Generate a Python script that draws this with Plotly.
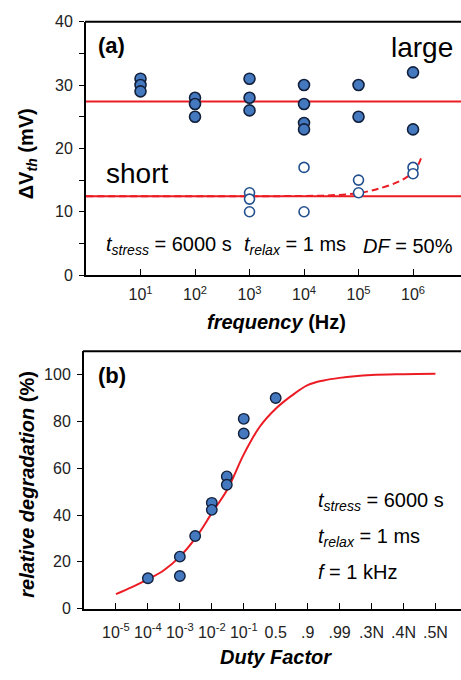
import plotly.graph_objects as go

# ---------------- Panel (a) data ----------------
freq_large = [10, 10, 10, 100, 100, 100, 1e3, 1e3, 1e3, 1e4, 1e4, 1e4, 1e4, 1e5, 1e5, 1e6, 1e6]
dvth_large = [31, 30, 29, 28, 27, 25, 31, 28, 26, 30, 27, 24, 23, 30, 25, 32, 23]
freq_short = [1e3, 1e3, 1e3, 1e4, 1e4, 1e5, 1e5, 1e6, 1e6]
dvth_short = [13, 12, 10, 17, 10, 15, 13, 17, 16]
mean_large = 27.4
mean_short = 12.45
line_freq = [1, 1e7]
fit_freq = [1, 1e3, 1e4, 3.16e4, 1e5, 2.45e5, 5.75e5, 1e6, 1.26e6, 1.48e6]
fit_dvth = [12.45, 12.45, 12.5, 12.6, 12.95, 13.7, 14.85, 16.2, 17.5, 19.0]
freq_tickvals = [10, 100, 1e3, 1e4, 1e5, 1e6]
freq_ticktext = ["10<sup>1</sup>", "10<sup>2</sup>", "10<sup>3</sup>",
                 "10<sup>4</sup>", "10<sup>5</sup>", "10<sup>6</sup>"]

# ---------------- Panel (b) data ----------------
duty_ticktext = ["10<sup>-5</sup>", "10<sup>-4</sup>", "10<sup>-3</sup>", "10<sup>-2</sup>",
                 "10<sup>-1</sup>", "0.5", ".9", ".99", ".3N", ".4N", ".5N"]
duty_tickpos = list(range(len(duty_ticktext)))
duty_pos = [1, 2, 2, 2.48, 3, 3, 3.47, 3.47, 4, 4, 5]
rel_deg = [13.0, 22.2, 13.9, 31.0, 45.2, 42.2, 56.5, 52.9, 81.1, 74.8, 90.0]
curve_pos = [0, 0.5, 1, 1.5, 2, 2.5, 3, 3.5, 4, 4.5, 5, 5.5, 6, 6.5, 7, 8, 9, 10]
curve_deg = [6.2, 9.2, 12.5, 16.4, 22.2, 30.3, 40.8, 51.2, 65.9, 77.7, 85.4, 91.0,
             95.5, 97.5, 98.6, 99.8, 100.2, 100.4]

W, H = 461, 680
RED = "#ec1c24"
FILL = "#4479c0"
EDGE = "#12203c"
OPEN = "#23508f"
FONT = "Liberation Sans, Arial, sans-serif"

def px(x):
    return x / W

def py(y):
    return 1 - y / H

fig = go.Figure()

# Panel (a)
fig.add_trace(go.Scatter(x=line_freq, y=[mean_large, mean_large], mode="lines",
                         line=dict(color=RED, width=2.2), xaxis="x", yaxis="y", showlegend=False))
fig.add_trace(go.Scatter(x=line_freq, y=[mean_short, mean_short], mode="lines",
                         line=dict(color=RED, width=2.2), xaxis="x", yaxis="y", showlegend=False))
fig.add_trace(go.Scatter(x=fit_freq, y=fit_dvth, mode="lines", line_shape="spline",
                         line=dict(color=RED, width=2, dash="7px,4px"),
                         xaxis="x", yaxis="y", showlegend=False))
fig.add_trace(go.Scatter(x=freq_large, y=dvth_large, mode="markers",
                         marker=dict(size=11, color=FILL, line=dict(color=EDGE, width=1.6)),
                         xaxis="x", yaxis="y", showlegend=False))
fig.add_trace(go.Scatter(x=freq_short, y=dvth_short, mode="markers",
                         marker=dict(size=10, color="white", line=dict(color=OPEN, width=1.6)),
                         xaxis="x", yaxis="y", showlegend=False))

# Panel (b)
fig.add_trace(go.Scatter(x=curve_pos, y=curve_deg, mode="lines", line_shape="spline",
                         line=dict(color=RED, width=2), xaxis="x2", yaxis="y2", showlegend=False))
fig.add_trace(go.Scatter(x=duty_pos, y=rel_deg, mode="markers",
                         marker=dict(size=10.5, color=FILL, line=dict(color=EDGE, width=1.4)),
                         xaxis="x2", yaxis="y2", showlegend=False))

tickfont = dict(family=FONT, size=16, color="#222")

fig.update_layout(
    width=W, height=H,
    margin=dict(l=0, r=0, t=0, b=0),
    paper_bgcolor="white", plot_bgcolor="white",
    font=dict(family=FONT, color="black"),
    hovermode=False,
    xaxis=dict(type="log", domain=[px(86), 1], range=[0, 6.88], anchor="y",
               tickvals=freq_tickvals, ticktext=freq_ticktext, ticks="inside", ticklen=6,
               tickwidth=1, tickcolor="black", tickfont=tickfont, ticklabelstandoff=4,
               showline=True, linewidth=2, linecolor="black", showgrid=False, zeroline=False),
    yaxis=dict(domain=[py(274), py(14)], range=[0, 40], dtick=10, anchor="x",
               ticks="outside", ticklen=5, tickwidth=1, tickcolor="black", tickfont=tickfont,
               ticklabelstandoff=3,
               minor=dict(dtick=5, ticks="outside", ticklen=5, tickwidth=1, tickcolor="black"),
               showline=True, linewidth=2, linecolor="black", showgrid=False, zeroline=False),
    xaxis2=dict(domain=[px(84), 1], range=[-1, 10.8], anchor="y2",
                tickvals=duty_tickpos, ticktext=duty_ticktext, ticks="inside", ticklen=6,
                tickwidth=1, tickcolor="black", tickfont=tickfont, ticklabelstandoff=8,
                showline=True, linewidth=2, linecolor="black", showgrid=False, zeroline=False),
    yaxis2=dict(domain=[py(616), py(352)], range=[0, 110], dtick=20, anchor="x2",
                ticks="outside", ticklen=5, tickwidth=1, tickcolor="black", tickfont=tickfont,
                ticklabelstandoff=3,
                showline=True, linewidth=2, linecolor="black", showgrid=False, zeroline=False),
)

# Top borders
fig.add_shape(type="line", xref="paper", yref="paper", x0=px(85), x1=1, y0=py(14), y1=py(14),
              line=dict(color="black", width=2))
fig.add_shape(type="line", xref="paper", yref="paper", x0=px(83), x1=1, y0=py(352), y1=py(352),
              line=dict(color="black", width=2))

def ann(text, x, y, size, xanchor="center", yanchor="middle", angle=0):
    fig.add_annotation(text=text, x=px(x), y=py(y), xref="paper", yref="paper",
                       xanchor=xanchor, yanchor=yanchor, showarrow=False, textangle=angle,
                       font=dict(family=FONT, size=size, color="black"))

# Panel (a) texts
ann("<b>(a)</b>", 96, 38, 22, xanchor="left")
ann("large", 389, 40, 28, xanchor="left")
ann("short", 104, 170, 28, xanchor="left")
ann("<i>t</i><sub><i>stress</i></sub> = 6000 s", 104, 244, 20, xanchor="left")
ann("<i>t</i><sub><i>relax</i></sub> = 1 ms", 242, 244, 20, xanchor="left")
ann("<i>DF</i> = 50%", 361, 244, 20, xanchor="left")
ann("<b>ΔV<sub><i>th</i></sub> (mV)</b>", 27, 150, 20, angle=-90)
ann("<b><i>frequency</i> (Hz)</b>", 276, 322, 20)

# Panel (b) texts
ann("<b>(b)</b>", 96, 377, 22, xanchor="left")
ann("<i>t</i><sub><i>stress</i></sub> = 6000 s", 316, 506, 20, xanchor="left")
ann("<i>t</i><sub><i>relax</i></sub> = 1 ms", 316, 543, 20, xanchor="left")
ann("<i>f</i> = 1 kHz", 316, 578, 20, xanchor="left")
ann("<b><i>relative degradation</i> (%)</b>", 27, 489, 20, angle=-90)
ann("<b><i>Duty Factor</i></b>", 276, 666, 20)

fig.write_html("out.html", config={"displayModeBar": False, "staticPlot": True},
               post_script="document.body.style.margin='0';document.body.style.overflow='hidden';")
